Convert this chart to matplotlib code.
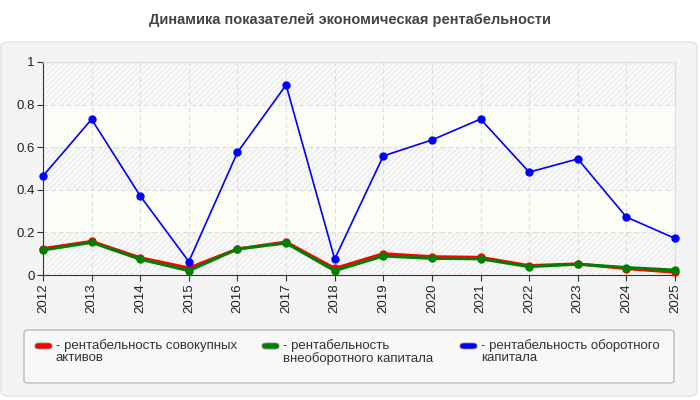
import matplotlib.pyplot as plt
from matplotlib.patches import FancyBboxPatch
import numpy as np

plt.rcParams['font.family'] = ['Liberation Sans', 'DejaVu Sans']

years = [2012, 2013, 2014, 2015, 2016, 2017, 2018, 2019, 2020, 2021, 2022, 2023, 2024, 2025]
assets = [0.124, 0.158, 0.081, 0.033, 0.122, 0.155, 0.031, 0.100, 0.086, 0.083, 0.044, 0.052, 0.030, 0.013]
fixed_cap = [0.117, 0.153, 0.074, 0.020, 0.122, 0.150, 0.020, 0.089, 0.078, 0.076, 0.039, 0.051, 0.035, 0.023]
working_cap = [0.465, 0.731, 0.371, 0.063, 0.576, 0.892, 0.075, 0.559, 0.634, 0.732, 0.483, 0.545, 0.272, 0.172]

labels = ['- рентабельность совокупных\nактивов',
          '- рентабельность\nвнеоборотного капитала',
          '- рентабельность оборотного\nкапитала']
colors = ['#ff0000', '#008000', '#0000ff']

W, H = 700, 400
fig = plt.figure(figsize=(7, 4), dpi=100)
fig.patch.set_facecolor('white')

# outer grey panel (behind the axes)
panel = FancyBboxPatch((1 / W, 4 / H), 696 / W, (396 - 42) / H,
                       boxstyle='round,pad=0,rounding_size=0.012',
                       transform=fig.transFigure, facecolor='#f4f4f4',
                       edgecolor='#e2e2e2', linewidth=1, zorder=-10)
fig.patches.append(panel)

fig.text(0.5, 1 - 20 / H, 'Динамика показателей экономическая рентабельности',
         ha='center', va='center', fontsize=10.5, fontweight='bold', color='#444444')

ax = fig.add_axes([43 / W, 1 - 275 / H, (675 - 43) / W, (275 - 62) / H])
ax.set_facecolor('#fdfdf8')

# alternating hatched bands
for i, lo in enumerate(np.arange(0, 1, 0.2)):
    if i % 2 == 0:
        ax.axhspan(lo, lo + 0.2, facecolor='#fafafa', edgecolor='#ececec',
                   hatch='//////', linewidth=0, zorder=0)

for vals, c in zip([assets, fixed_cap, working_cap], colors):
    lw = 2.2 if c != '#0000ff' else 1.2
    ax.plot(years, vals, color=c, linewidth=lw, marker='o', markersize=5,
            clip_on=False, zorder=3)

ax.set_xlim(2012, 2025)
ax.set_ylim(0, 1)
ax.set_xticks(years)
ax.set_xticklabels([str(y) for y in years], rotation=90, fontsize=9.5, color='#222222')
ax.set_yticks([0, 0.2, 0.4, 0.6, 0.8, 1])
ax.set_yticklabels(['0', '0.2', '0.4', '0.6', '0.8', '1'], fontsize=9.5, color='#222222')
ax.grid(True, color='#dddddd', linestyle=(0, (4, 3)), linewidth=0.8)
ax.set_axisbelow(True)
for s in ['top', 'right']:
    ax.spines[s].set_color('#dddddd')
for s in ['left', 'bottom']:
    ax.spines[s].set_color('#333333')
ax.tick_params(length=4, color='#333333', pad=2)

# legend box
lg = FancyBboxPatch((24 / W, 1 - 383 / H), (674 - 24) / W, (383 - 330) / H,
                    boxstyle='round,pad=0,rounding_size=0.006',
                    transform=fig.transFigure, facecolor='#f8f8f8',
                    edgecolor='#bbbbbb', linewidth=1)
fig.patches.append(lg)

marker_x = [35, 262, 460]
for mx, lab, c in zip(marker_x, labels, colors):
    m = FancyBboxPatch((mx / W, 1 - 349 / H), 17 / W, 6 / H,
                       boxstyle='round,pad=0,rounding_size=0.006',
                       transform=fig.transFigure, facecolor=c,
                       edgecolor='#888888', linewidth=0.6)
    fig.patches.append(m)
    fig.text((mx + 21) / W, 1 - 339 / H, lab, ha='left', va='top',
             fontsize=9.5, color='#333333', linespacing=1.0)

fig.savefig('out.png', dpi=100)
